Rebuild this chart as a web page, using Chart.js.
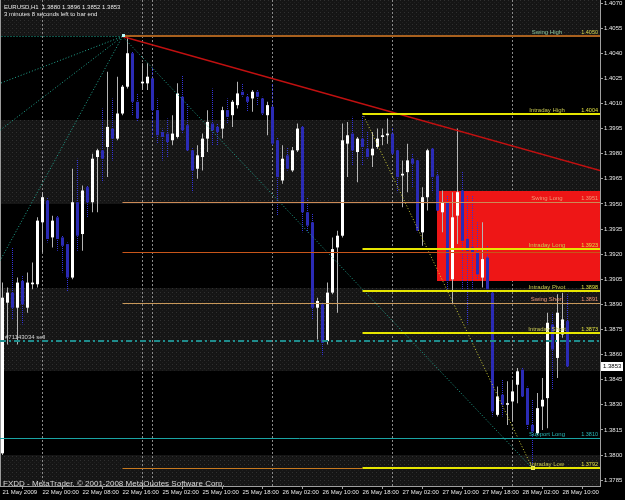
<!DOCTYPE html>
<html>
<head>
<meta charset="utf-8">
<script src="https://cdn.jsdelivr.net/npm/chart.js@4/dist/chart.umd.min.js"></script>
<style>
  html, body { margin: 0; padding: 0; background: #000; }
  canvas { display: block; }
</style>
</head>
<body>
<canvas id="chart" width="625" height="500"></canvas>
<script>
// EURUSD H1 candles (index 0 = 21 May 16:00)
const openPrices = [
  1.3801, 1.3891, 1.3897, 1.3888, 1.3904, 1.3888, 1.3902, 1.3902, 1.3939, 1.3952,
  1.3930, 1.3942, 1.3930, 1.3926, 1.3906, 1.3951, 1.3932, 1.3960, 1.3951, 1.3978,
  1.3982, 1.3984, 1.3995, 1.3989, 1.4004, 1.4020, 1.4040, 1.4011, 1.4022, 1.4022,
  1.4025, 1.4006, 1.3993, 1.3992, 1.3988, 1.3990, 1.4014, 1.3997, 1.3982, 1.3971,
  1.3978, 1.3989, 1.3998, 1.3996, 1.3995, 1.4006, 1.4003, 1.4009, 1.4017, 1.4014,
  1.4013, 1.4017, 1.4013, 1.4003, 1.4008, 1.3988, 1.3964, 1.3979, 1.3970, 1.3982,
  1.3996, 1.3945, 1.3939, 1.3888, 1.3890, 1.3868, 1.3897, 1.3924, 1.3931, 1.3986,
  1.3992, 1.3981, 1.3989, 1.3983, 1.3979, 1.3984, 1.3990, 1.3991, 1.3992, 1.3982,
  1.3967, 1.3969, 1.3977, 1.3976, 1.3933, 1.3954, 1.3983, 1.3967, 1.3945, 1.3951,
  1.3905, 1.3943, 1.3958, 1.3929, 1.3924, 1.3921, 1.3906, 1.3918, 1.3897, 1.3824,
  1.3836, 1.3830, 1.3832, 1.3842, 1.3851, 1.3840, 1.3818, 1.3813, 1.3829, 1.3834,
  1.3878, 1.3858, 1.3872, 1.3880
];
const highPrices = [
  1.3903, 1.3900, 1.3924, 1.3906, 1.3907, 1.3909, 1.3915, 1.3942, 1.3957, 1.3954,
  1.3943, 1.3943, 1.3931, 1.3927, 1.3971, 1.3977, 1.3961, 1.3961, 1.3980, 1.3983,
  1.4007, 1.4029, 1.4013, 1.4026, 1.4021, 1.4050, 1.4041, 1.4016, 1.4034, 1.4034,
  1.4032, 1.4013, 1.3995, 1.4001, 1.4003, 1.4022, 1.4027, 1.4010, 1.3984, 1.3985,
  1.3992, 1.4006, 1.4019, 1.3998, 1.4008, 1.4013, 1.4012, 1.4023, 1.4022, 1.4016,
  1.4018, 1.4018, 1.4014, 1.4011, 1.4022, 1.3990, 1.3985, 1.3984, 1.3984, 1.3998,
  1.3997, 1.3954, 1.3944, 1.3894, 1.3891, 1.3903, 1.3930, 1.3934, 1.3998, 1.3999,
  1.4002, 1.3990, 1.4003, 1.3993, 1.3993, 1.3995, 1.3995, 1.4001, 1.3996, 1.3983,
  1.3976, 1.3986, 1.3980, 1.3977, 1.3960, 1.3983, 1.3984, 1.3970, 1.3958, 1.3955,
  1.3957, 1.3995, 1.3969, 1.3955, 1.3955, 1.3939, 1.3939, 1.3925, 1.3898, 1.3841,
  1.3845, 1.3844, 1.3845, 1.3852, 1.3852, 1.3841, 1.3833, 1.3837, 1.3846, 1.3885,
  1.3885, 1.3896, 1.3897, 1.3896
];
const lowPrices = [
  1.3800, 1.3866, 1.3881, 1.3866, 1.3878, 1.3885, 1.3899, 1.3900, 1.3921, 1.3927,
  1.3924, 1.3922, 1.3909, 1.3898, 1.3905, 1.3922, 1.3922, 1.3942, 1.3945, 1.3945,
  1.3963, 1.3966, 1.3976, 1.3988, 1.4003, 1.4019, 1.4003, 1.3999, 1.4018, 1.4018,
  1.3990, 1.3986, 1.3976, 1.3978, 1.3985, 1.3989, 1.3992, 1.3981, 1.3957, 1.3965,
  1.3970, 1.3981, 1.3985, 1.3985, 1.3989, 1.3998, 1.3996, 1.4007, 1.4014, 1.4005,
  1.4005, 1.4009, 1.4003, 1.3991, 1.3985, 1.3943, 1.3962, 1.3970, 1.3969, 1.3981,
  1.3933, 1.3933, 1.3881, 1.3869, 1.3859, 1.3866, 1.3896, 1.3885, 1.3930, 1.3966,
  1.3973, 1.3963, 1.3973, 1.3977, 1.3972, 1.3983, 1.3985, 1.3986, 1.3979, 1.3957,
  1.3948, 1.3957, 1.3960, 1.3933, 1.3925, 1.3946, 1.3957, 1.3945, 1.3933, 1.3899,
  1.3890, 1.3926, 1.3899, 1.3878, 1.3899, 1.3905, 1.3900, 1.3897, 1.3823, 1.3823,
  1.3823, 1.3818, 1.3820, 1.3831, 1.3834, 1.3815, 1.3792, 1.3812, 1.3815, 1.3816,
  1.3839, 1.3846, 1.3870, 1.3852
];
const closePrices = [
  1.3894, 1.3897, 1.3888, 1.3903, 1.3890, 1.3903, 1.3903, 1.3940, 1.3954, 1.3929,
  1.3940, 1.3929, 1.3925, 1.3906, 1.3951, 1.3931, 1.3958, 1.3951, 1.3977, 1.3982,
  1.3977, 1.3996, 1.3989, 1.4004, 1.4020, 1.4040, 1.4011, 1.4001, 1.4023, 1.4026,
  1.4006, 1.3991, 1.3990, 1.3987, 1.3992, 1.4016, 1.3994, 1.3982, 1.3970, 1.3979,
  1.3989, 1.3999, 1.3994, 1.3993, 1.4006, 1.4002, 1.4011, 1.4016, 1.4015, 1.4011,
  1.4017, 1.4014, 1.4004, 1.4009, 1.3986, 1.3966, 1.3977, 1.3971, 1.3982, 1.3995,
  1.3945, 1.3937, 1.3888, 1.3892, 1.3867, 1.3897, 1.3923, 1.3931, 1.3988, 1.3991,
  1.3982, 1.3989, 1.3984, 1.3978, 1.3983, 1.3989, 1.3991, 1.3992, 1.3980, 1.3966,
  1.3968, 1.3976, 1.3974, 1.3934, 1.3954, 1.3982, 1.3966, 1.3946, 1.3951, 1.3904,
  1.3942, 1.3957, 1.3928, 1.3922, 1.3921, 1.3908, 1.3917, 1.3899, 1.3826, 1.3835,
  1.3830, 1.3831, 1.3838, 1.3850, 1.3835, 1.3818, 1.3814, 1.3828, 1.3833, 1.3879,
  1.3863, 1.3885, 1.3881, 1.3853
];

const timeLabels = [
  "21 May 2009", "22 May 00:00", "22 May 08:00", "22 May 16:00", "25 May 02:00",
  "25 May 10:00", "25 May 18:00", "26 May 02:00", "26 May 10:00", "26 May 18:00",
  "27 May 02:00", "27 May 10:00", "27 May 18:00", "28 May 02:00", "28 May 10:00"
];
const barsPerLabel = 8;
const slotCount = 120;            // bars + empty shift space on the right
const priceTicks = [1.3785, 1.3800, 1.3815, 1.3830, 1.3845, 1.3860, 1.3875, 1.3890, 1.3905,
  1.3920, 1.3935, 1.3950, 1.3965, 1.3980, 1.3995, 1.4010, 1.4025, 1.4040, 1.4055, 1.4070];
const priceMin = 1.37815;
const priceMax = 1.40718;

// period separators (bar index)
const separators = [8, 28, 30, 54, 78, 102];
// shaded 50 pip zones
const zoneLows = [1.4050, 1.3950, 1.3850, 1.3700];
const zoneHighs = [1.4100, 1.4000, 1.3900, 1.3800];

// pivot levels
const levelNames = ["Swing High", "Intraday High", "Swing Long", "Intraday Long", "Intraday Pivot",
  "Swing Short", "Intraday Short", "Support Long", "Intraday Low"];
const levelPrices = [1.4050, 1.4004, 1.3951, 1.3923, 1.3898, 1.3891, 1.3873, 1.3810, 1.3792];
const levelStarts = [24, 72, 24, 72, 72, 24, 72, -1, 72];

const extraLinePrices = [1.3921, 1.3792];
const extraLineStarts = [24, 24];
const extraLineEnds = [125, 72];

const orderPrice = 1.3868;
const orderText = "#71143034 sell";

// drawn objects: [startIndex, startPrice, endIndex, endPrice]
const fanOrigin = [24, 1.4050];
const fanEnds = [[-0.5, 1.4022], [-0.5, 1.3994], [-0.5, 1.3916], [106, 1.3792], [-0.5, 1.4050]];
const redTrend = [24, 1.4050, 119.5, 1.3970];
const yellowTrend = [72, 1.4004, 106, 1.3792];
const redBox = [87, 1.3958, 125, 1.3904];

const headerLine1 = "EURUSD,H1  1.3880 1.3896 1.3852 1.3853";
const headerLine2 = "3 minutes 8 seconds left to bar end";
const footerText = "FXDD - MetaTrader, \u00a9 2001-2008 MetaQuotes Software Corp.";

const FONT = "'Liberation Sans', Arial, sans-serif";
const BULL = "#ffffff";
const BEAR = "#2b2bb5";

const canvas = document.getElementById("chart");
const ctx = canvas.getContext("2d");

function makePattern(w, h, base, dots) {
  const c = document.createElement("canvas");
  c.width = w; c.height = h;
  const g = c.getContext("2d");
  if (base) { g.fillStyle = base; g.fillRect(0, 0, w, h); }
  dots.forEach(d => { g.fillStyle = d[2]; g.fillRect(d[0], d[1], 1, 1); });
  return ctx.createPattern(c, "repeat");
}
const zonePattern = makePattern(4, 4, "#151515", [[0, 0, "#303030"], [2, 2, "#202020"]]);
const bearWick = makePattern(1, 2, null, [[0, 0, "#3434d8"]]);

const labels = Array.from({ length: slotCount }, (_, i) => i);
const wickData = highPrices.map((h, i) => [lowPrices[i], h]);
const bodyData = openPrices.map((o, i) => [Math.min(o, closePrices[i]), Math.max(o, closePrices[i])]);
const isBull = openPrices.map((o, i) => closePrices[i] >= o);

function hLine(c, y, x1, x2, color, width, dash) {
  c.save();
  c.strokeStyle = color;
  c.lineWidth = width;
  c.setLineDash(dash || []);
  const py = width % 2 === 1 ? Math.round(y) + 0.5 : Math.round(y);
  c.beginPath(); c.moveTo(x1, py); c.lineTo(x2, py); c.stroke();
  c.restore();
}

function segment(c, x, y, seg, color, width, dash) {
  c.save();
  c.strokeStyle = color; c.lineWidth = width; c.setLineDash(dash || []);
  c.beginPath();
  c.moveTo(x.getPixelForValue(seg[0]), y.getPixelForValue(seg[1]));
  c.lineTo(x.getPixelForValue(seg[2]), y.getPixelForValue(seg[3]));
  c.stroke();
  c.restore();
}

const overlay = {
  id: "overlay",
  beforeDraw(chart) {
    const c = chart.ctx;
    c.save(); c.fillStyle = "#000"; c.fillRect(0, 0, chart.width, chart.height); c.restore();
  },
  beforeDatasetsDraw(chart) {
    const c = chart.ctx, a = chart.chartArea, x = chart.scales.x, y = chart.scales.y;
    c.save();
    c.beginPath(); c.rect(a.left, a.top, a.right - a.left, a.bottom - a.top); c.clip();

    zoneLows.forEach((lo, k) => {
      const top = Math.round(y.getPixelForValue(zoneHighs[k]));
      const bot = Math.round(y.getPixelForValue(lo));
      c.fillStyle = zonePattern;
      c.fillRect(a.left, top, a.right - a.left, bot - top);
    });

    // left frame
    c.fillStyle = "#9a9a9a"; c.fillRect(a.left, a.top, 1, a.bottom - a.top);

    separators.forEach(i => {
      const px = Math.floor(x.getPixelForValue(i)) + 0.5;
      c.strokeStyle = "#8a8a8a"; c.lineWidth = 1; c.setLineDash([2, 2]);
      c.beginPath(); c.moveTo(px, a.top); c.lineTo(px, a.bottom); c.stroke();
    });
    c.setLineDash([]);

    const bx1 = x.getPixelForValue(redBox[0]) - 0.5, bx2 = x.getPixelForValue(redBox[2]);
    const by1 = y.getPixelForValue(redBox[1]), by2 = y.getPixelForValue(redBox[3]);
    c.fillStyle = "#ee1616";
    c.fillRect(Math.round(bx1), Math.round(by1), bx2 - bx1, Math.round(by2 - by1));
    c.restore();
  },
  afterDatasetsDraw(chart) {
    const c = chart.ctx, a = chart.chartArea, x = chart.scales.x, y = chart.scales.y;
    c.save();
    c.beginPath(); c.rect(a.left, a.top, a.right - a.left, a.bottom - a.top); c.clip();

    // fan lines and trend lines
    fanEnds.forEach(e => segment(c, x, y, [fanOrigin[0], fanOrigin[1], e[0], e[1]], "#22a892", 1, [1, 2]));
    segment(c, x, y, yellowTrend, "#d0d038", 1, [1, 2]);
    segment(c, x, y, redTrend, "#c01010", 1.5);

    // order line
    hLine(c, y.getPixelForValue(orderPrice), a.left, a.right, "#1f8c8c", 2, [6, 3, 2, 3]);

    // extra orange lines
    hLine(c, y.getPixelForValue(extraLinePrices[0]), x.getPixelForValue(extraLineStarts[0]),
      x.getPixelForValue(extraLineEnds[0]), "#c8561a", 1);
    hLine(c, y.getPixelForValue(extraLinePrices[1]), x.getPixelForValue(extraLineStarts[1]),
      x.getPixelForValue(extraLineEnds[1]), "#c87a20", 1);

    const lineColors = ["#a8601e", "#e6e600", "#cc8a56", "#e6e600", "#e6e600", "#c8985a", "#e6e600", "#1aa4a4", "#e6e600"];
    const lineWidths = [2, 2, 1, 2, 2, 1, 2, 1, 2];
    const textColors = ["#8fcaa0", "#c8c850", "#f09a78", "#c8c850", "#c8c850", "#f09a78", "#c8c850", "#28b8b8", "#c8c850"];
    const valueColors = ["#d8d850", "#e0e040", "#f09a78", "#e0e040", "#e0e040", "#f09a78", "#e0e040", "#28b8b8", "#e0e040"];
    levelPrices.forEach((p, k) => {
      const py = y.getPixelForValue(p);
      hLine(c, py, x.getPixelForValue(levelStarts[k]), a.right, lineColors[k], lineWidths[k]);
      c.font = "6px " + FONT;
      c.textBaseline = "alphabetic";
      c.textAlign = "center";
      c.fillStyle = textColors[k];
      c.fillText(levelNames[k], a.right - 53, Math.round(py) - 2);
      c.textAlign = "right";
      c.fillStyle = valueColors[k];
      c.font = "5.5px " + FONT;
      c.fillText(p.toFixed(4), a.right - 2, Math.round(py) - 2);
    });

    // markers
    const mx = x.getPixelForValue(fanOrigin[0]), my = y.getPixelForValue(fanOrigin[1]);
    c.fillStyle = "#b8ffff"; c.fillRect(Math.round(mx) - 1, Math.round(my) - 2, 3, 3);
    const yx = x.getPixelForValue(yellowTrend[2]), yy = y.getPixelForValue(yellowTrend[3]);
    c.strokeStyle = "#e8e860"; c.lineWidth = 1;
    c.strokeRect(Math.round(yx) - 1.5, Math.round(yy) - 1.5, 3, 3);

    // texts
    c.textAlign = "left";
    c.fillStyle = "#e8e8e8";
    c.font = "6px " + FONT;
    c.fillText(headerLine1, a.left + 4, a.top + 9);
    c.fillText(headerLine2, a.left + 4, a.top + 16);
    c.fillStyle = "#d0d0d0";
    c.fillText(orderText, a.left + 5, Math.round(y.getPixelForValue(orderPrice)) - 2);
    c.fillStyle = "#d8d8d8";
    c.font = "8px " + FONT;
    c.fillText(footerText, a.left + 3, a.bottom - 0.5);
    c.restore();
  },
  afterDraw(chart) {
    const c = chart.ctx, a = chart.chartArea, y = chart.scales.y;
    const last = closePrices[closePrices.length - 1];
    const py = Math.round(y.getPixelForValue(last));
    c.save();
    c.fillStyle = "#ffffff";
    c.fillRect(a.right + 1, py - 4, 22, 9);
    c.fillStyle = "#000";
    c.font = "6px " + FONT;
    c.textAlign = "left"; c.textBaseline = "middle";
    c.fillText(last.toFixed(4), a.right + 3, py + 0.5);
    c.restore();
  }
};

new Chart(ctx, {
  type: "bar",
  data: {
    labels,
    datasets: [
      {
        label: "wick",
        data: wickData,
        backgroundColor: isBull.map(b => b ? "#b4b4b4" : bearWick),
        barThickness: 1,
        grouped: false,
        minBarLength: 1,
        inflateAmount: 0,
        order: 1
      },
      {
        label: "body",
        data: bodyData,
        backgroundColor: isBull.map(b => b ? BULL : BEAR),
        barThickness: 3,
        grouped: false,
        minBarLength: 1,
        inflateAmount: 0,
        order: 0
      }
    ]
  },
  options: {
    responsive: false,
    devicePixelRatio: 1,
    animation: false,
    layout: { padding: 0 },
    plugins: { legend: { display: false }, tooltip: { enabled: false } },
    scales: {
      x: {
        type: "category",
        offset: true,
        grid: { display: true, drawOnChartArea: false, drawTicks: true, tickLength: 3, color: "#a0a0a0" },
        border: { display: true, color: "#a0a0a0" },
        ticks: {
          autoSkip: false,
          maxRotation: 0,
          align: "start",
          padding: 0,
          color: "#e8e8e8",
          font: { family: FONT, size: 6 },
          callback: v => timeLabels[v / barsPerLabel]
        },
        afterBuildTicks: s => { s.ticks = s.ticks.filter(t => t.value % barsPerLabel === 0 && t.value / barsPerLabel < timeLabels.length); },
        afterFit: s => { s.height = 14; s.paddingLeft = 0; s.paddingRight = 0; }
      },
      y: {
        position: "right",
        min: priceMin,
        max: priceMax,
        grid: { display: true, drawOnChartArea: false, drawTicks: true, tickLength: 3, color: "#a0a0a0" },
        border: { display: true, color: "#a0a0a0" },
        ticks: {
          padding: 1,
          color: "#e8e8e8",
          font: { family: FONT, size: 6 },
          callback: v => v.toFixed(4)
        },
        afterBuildTicks: s => { s.ticks = priceTicks.map(v => ({ value: v })); },
        afterFit: s => { s.width = 25; s.paddingTop = 0; s.paddingBottom = 0; }
      }
    }
  },
  plugins: [overlay]
});
</script>
</body>
</html>
